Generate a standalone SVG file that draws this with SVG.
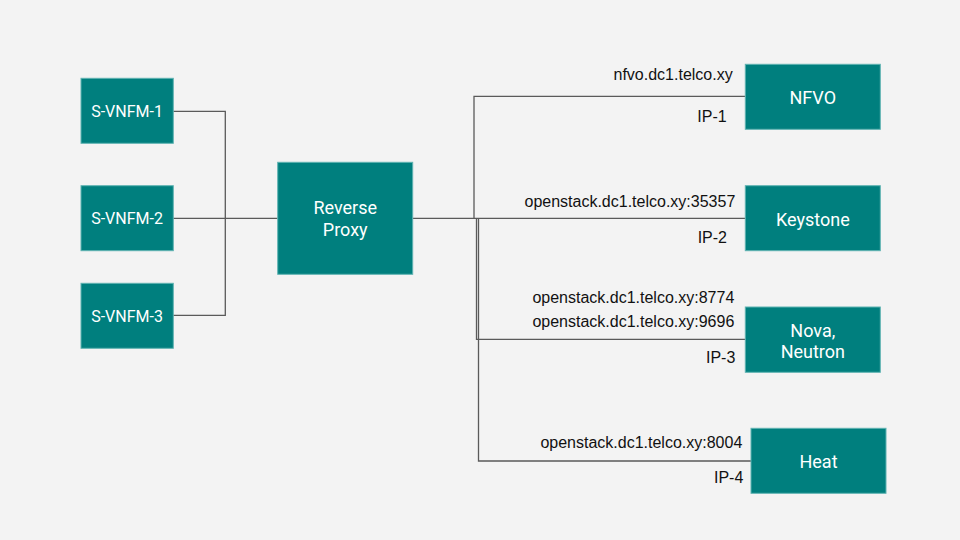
<svg xmlns="http://www.w3.org/2000/svg" width="960" height="540" viewBox="0 0 960 540">
<style>
.box{fill:#007f7e;stroke:#5fb3b2;stroke-width:1}
.bt{font-family:Roboto,"Liberation Sans",sans-serif;font-size:18px;fill:#ffffff;text-anchor:middle}
.bs{font-size:16px}
.lb{font-family:"Liberation Sans",Arial,sans-serif;font-size:16px;fill:#111111;text-anchor:end}
.ln{fill:none;stroke:#5a5a5a;stroke-width:1.3}
</style>
<rect width="960" height="540" fill="#f3f3f3"/>
<g id="connectors">
<polyline class="ln" points="173,111.3 225.3,111.3 225.3,315.3 173,315.3"/>
<line class="ln" x1="173" y1="218.3" x2="277.7" y2="218.3"/>
<line class="ln" x1="412.7" y1="218.3" x2="745.3" y2="218.3"/>
<polyline class="ln" points="474,218.3 474,96.3 745.3,96.3"/>
<polyline class="ln" points="476.5,218.3 476.5,339.3 745.3,339.3"/>
<polyline class="ln" points="478.5,218.3 478.5,461 751,461"/>
</g>
<g id="s-vnfm-1"><rect class="box" x="81" y="78.3" width="92.3" height="65"/><text class="bt bs" x="127" y="116.7">S-VNFM-1</text></g>
<g id="s-vnfm-2"><rect class="box" x="81" y="185.7" width="92.3" height="65"/><text class="bt bs" x="127" y="224">S-VNFM-2</text></g>
<g id="s-vnfm-3"><rect class="box" x="81" y="283.3" width="92.3" height="65"/><text class="bt bs" x="127" y="321.7">S-VNFM-3</text></g>
<g id="reverse-proxy"><rect class="box" x="277.7" y="162.3" width="135" height="112"/><text class="bt" x="345.2" y="214">Reverse</text><text class="bt" x="345.2" y="236">Proxy</text></g>
<g id="nfvo"><rect class="box" x="745.3" y="64.3" width="135" height="65"/><text class="bt" x="812.8" y="104">NFVO</text></g>
<g id="keystone"><rect class="box" x="745.3" y="185.7" width="135" height="65"/><text class="bt" x="812.8" y="225.5">Keystone</text></g>
<g id="nova-neutron"><rect class="box" x="745.3" y="307" width="135" height="65.3"/><text class="bt" x="812.8" y="336.5">Nova,</text><text class="bt" x="812.8" y="357.5">Neutron</text></g>
<g id="heat"><rect class="box" x="751" y="428.3" width="135" height="65"/><text class="bt" x="818.5" y="468.3">Heat</text></g>
<g id="labels">
<text class="lb" x="732.7" y="80">nfvo.dc1.telco.xy</text>
<text class="lb" x="726.7" y="121.7">IP-1</text>
<text class="lb" x="735.3" y="207">openstack.dc1.telco.xy:35357</text>
<text class="lb" x="727" y="243.3">IP-2</text>
<text class="lb" x="734.3" y="303.3">openstack.dc1.telco.xy:8774</text>
<text class="lb" x="734.3" y="327.3">openstack.dc1.telco.xy:9696</text>
<text class="lb" x="735.3" y="362.7">IP-3</text>
<text class="lb" x="742.3" y="448.3">openstack.dc1.telco.xy:8004</text>
<text class="lb" x="743.3" y="483.3">IP-4</text>
</g>
</svg>
